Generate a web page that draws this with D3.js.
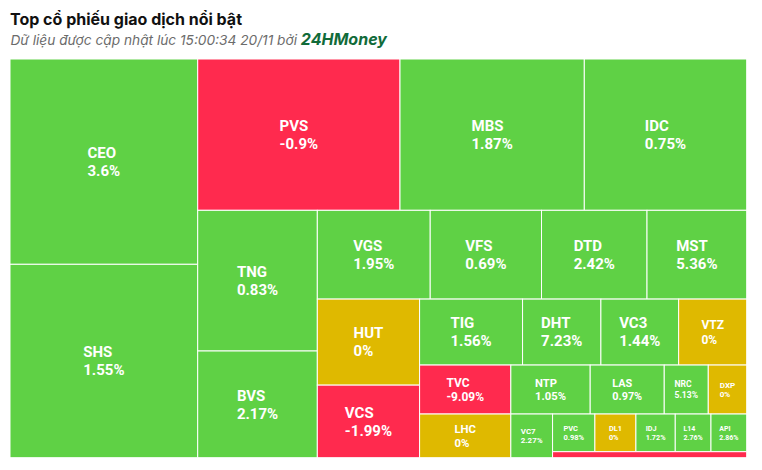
<!DOCTYPE html>
<html><head><meta charset="utf-8">
<script src="https://cdn.jsdelivr.net/npm/d3@7"></script>
<style>
html,body{margin:0;padding:0;background:#fff;}
svg{display:block;}
</style></head>
<body>
<svg id="chart" width="762" height="470"></svg>
<script>
// ---- data ----
const tickers = ["CEO","SHS","PVS","MBS","IDC","TNG","BVS","VGS","VFS","DTD","MST","HUT","VCS","TIG","DHT","VC3","VTZ","TVC","LHC","NTP","LAS","NRC","DXP","VC7","PVC","DL1","IDJ","L14","API","PVB"];
const changes = [3.6,1.55,-0.9,1.87,0.75,0.83,2.17,1.95,0.69,2.42,5.36,0,-1.99,1.56,7.23,1.44,0,-9.09,0,1.05,0.97,5.13,0,2.27,0.98,0,1.72,2.76,2.86,-1.2];
const tradeValues = [385.35,363.01,306.08,278.85,245.71,168.28,127.61,100.23,98.81,93.67,88.50,88.00,74.21,67.91,51.68,51.28,44.88,44.69,39.85,38.86,36.26,21.56,18.82,18.22,15.95,15.46,14.82,13.46,13.46,11.64];
const titleText = "Top cổ phiếu giao dịch nổi bật";
const subtitleText = "Dữ liệu được cập nhật lúc 15:00:34 20/11 bởi ";
const brandText = "24HMoney";

// ---- layout ----
const W = 762, H = 470;
const plot = {x: 10, y: 59, w: 736.7, h: 398.7};
const colorUp = "#5fd145", colorDown = "#ff2a4e", colorFlat = "#dfb900";

const svg = d3.select("#chart");

svg.append("text")
  .attr("x", 10).attr("y", 25)
  .style("font-family", "Inter, Roboto, sans-serif")
  .style("font-weight", 700).style("font-size", "16px")
  .attr("fill", "#111")
  .text(titleText);

const sub = svg.append("text")
  .attr("x", 10.5).attr("y", 45)
  .style("font-family", "Inter, Roboto, sans-serif")
  .style("font-style", "italic")
  .style("font-size", "13.7px")
  .attr("fill", "#6b6b6b");
sub.append("tspan").text(subtitleText);
sub.append("tspan")
  .style("font-weight", 700).style("font-size", "16px")
  .attr("fill", "#116b3a")
  .text(brandText);

// alternating-direction squarified tiling (column first, then row, ...)
function altSquarify(parent, x0, y0, x1, y1) {
  const nodes = parent.children, n = nodes.length;
  let value = parent.value, dir = 0, i0 = 0;
  const aspect = (a, b) => Math.max(a / b, b / a);
  while (i0 < n) {
    const dx = x1 - x0, dy = y1 - y0;
    const k = (dx * dy) / value;
    const side = dir === 0 ? dy : dx;
    let sum = nodes[i0].value, last = sum, i1 = i0 + 1;
    for (; i1 < n; ++i1) {
      const v = nodes[i1].value;
      const tOld = sum * k / side, tNew = (sum + v) * k / side;
      const rOld = aspect(tOld, last * k / tOld);
      const rNew = aspect(tNew, last * k / tNew);
      if (rNew > rOld) break;
      sum += v; last = v;
    }
    const row = {value: sum, children: nodes.slice(i0, i1)};
    if (dir === 0) { const xm = x0 + dx * sum / value; d3.treemapSlice(row, x0, y0, xm, y1); x0 = xm; }
    else { const ym = y0 + dy * sum / value; d3.treemapDice(row, x0, y0, x1, ym); y0 = ym; }
    value -= sum; i0 = i1; dir = 1 - dir;
  }
}

const data = {name: "root", children: tickers.map((t, i) => ({name: t, change: changes[i], value: tradeValues[i]}))};
const root = d3.hierarchy(data).sum(d => d.value || 0).sort((a, b) => b.value - a.value);
d3.treemap().size([plot.w, plot.h]).tile(altSquarify).round(false)(root);

const color = d => d.data.change > 0 ? colorUp : (d.data.change < 0 ? colorDown : colorFlat);
const fontScale = d3.scaleLinear().domain([37, 67, 71]).range([7, 12, 15]).clamp(true);

const g = svg.append("g").attr("transform", `translate(${plot.x},${plot.y})`);
const cell = g.selectAll("g.cell").data(root.leaves()).join("g").attr("class", "cell");
cell.append("rect")
  .attr("x", d => d.x0).attr("y", d => d.y0)
  .attr("width", d => d.x1 - d.x0).attr("height", d => d.y1 - d.y0)
  .attr("fill", color)
  .attr("stroke", "#fff").attr("stroke-width", 1);

cell.filter(d => (d.y1 - d.y0) >= 14 && (d.x1 - d.x0) >= 20).each(function(d) {
  const w = d.x1 - d.x0, h = d.y1 - d.y0;
  const fs = fontScale(Math.sqrt(w * h));
  const cx = (d.x0 + d.x1) / 2, cy = (d.y0 + d.y1) / 2;
  const b1 = cy - 0.245 * fs, b2 = b1 + 1.2 * fs;
  const t = d3.select(this).append("text")
    .style("font-family", "Roboto, sans-serif")
    .style("font-weight", 700)
    .style("font-size", fs + "px")
    .attr("fill", "#fff");
  const l1 = t.append("tspan").attr("y", b1).text(d.data.name);
  const l2 = t.append("tspan").attr("y", b2).text(d.data.change + "%");
  const mw = Math.max(l1.node().getComputedTextLength(), l2.node().getComputedTextLength());
  l1.attr("x", cx - mw / 2);
  l2.attr("x", cx - mw / 2);
});
</script>
</body></html>
